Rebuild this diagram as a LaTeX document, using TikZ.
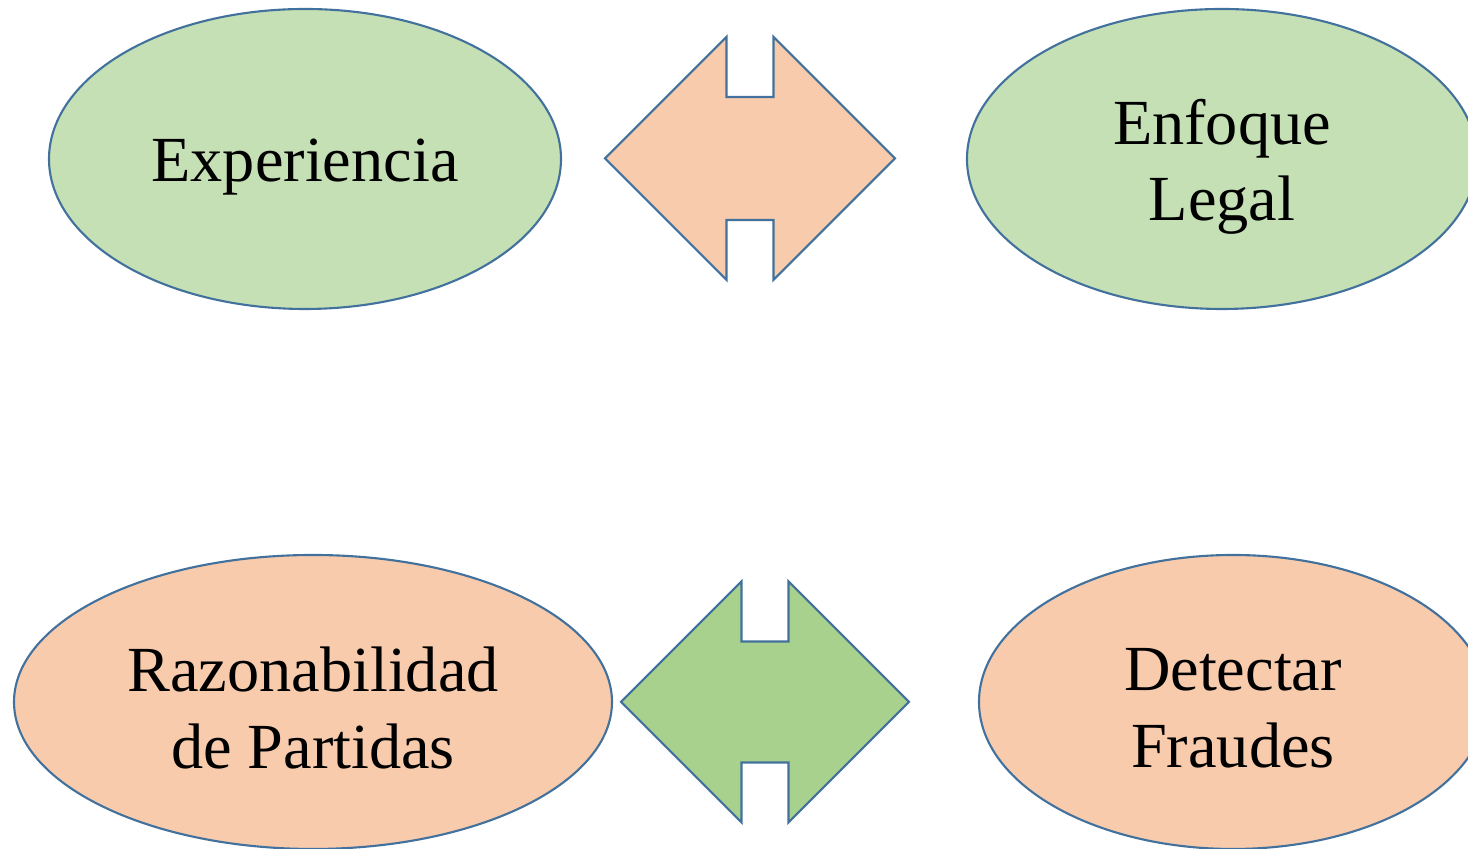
\documentclass[tikz,border=0pt]{standalone}
\usepackage{fontspec}
\setmainfont{Liberation Serif}
\usetikzlibrary{shapes,calc,positioning}
\definecolor{verdeclaro}{HTML}{C5E0B4}
\definecolor{verde}{HTML}{A9D18E}
\definecolor{durazno}{HTML}{F8CBAD}
\definecolor{borde}{HTML}{41719C}
\tikzstyle{bordeazul} = [draw=borde, line width=0.6pt]
\tikzstyle{texto} = [align=center, inner sep=0pt, font=\fontsize{18.3}{21.8}\selectfont]
% double arrow: center, half width, half height, color
\newcommand{\flechadoble}[4]{%
  \path[bordeazul, fill=#4]
    ($(#1)+(-#2,0)$) -- ($(#1)+(-0.235,#3)$) -- ($(#1)+(-0.235,#3-0.6)$)
    -- ($(#1)+(0.235,#3-0.6)$) -- ($(#1)+(0.235,#3)$) -- ($(#1)+(#2,0)$)
    -- ($(#1)+(0.235,-#3)$) -- ($(#1)+(0.235,-#3+0.6)$)
    -- ($(#1)+(-0.235,-#3+0.6)$) -- ($(#1)+(-0.235,-#3)$) -- cycle;}

\begin{document}
\begin{tikzpicture}
\tikzset{elipse/.style={ellipse, bordeazul, inner sep=0pt}}
\useasboundingbox (0,0) rectangle (14.68,8.49);

\node [elipse, fill=verdeclaro, minimum width=5.12cm, minimum height=3.0cm] (exp) at (3.05,6.90) {};
\node [elipse, fill=verdeclaro, minimum width=5.10cm, minimum height=3.0cm] (enf) at (12.22,6.90) {};
\node [elipse, fill=durazno, minimum width=5.98cm, minimum height=2.94cm] (raz) at (3.13,1.47) {};
\node [elipse, fill=durazno, minimum width=5.08cm, minimum height=2.94cm] (det) at (12.33,1.47) {};

\node [texto] (exp-t) at ([yshift=-0.08cm]exp.center) {Experiencia};
\node [texto] (enf-t) at ([yshift=-0.08cm]enf.center) {Enfoque\\Legal};
\node [texto] (raz-t) at ([yshift=-0.06cm]raz.center) {Razonabilidad\\de Partidas};
\node [texto] (det-t) at ([yshift=-0.06cm]det.center) {Detectar\\Fraudes};

\coordinate (f1) at (7.50,6.905);
\coordinate (f2) at (7.65,1.47);
\flechadoble{f1}{1.45}{1.215}{durazno};
\flechadoble{f2}{1.44}{1.205}{verde};
\end{tikzpicture}
\end{document}
